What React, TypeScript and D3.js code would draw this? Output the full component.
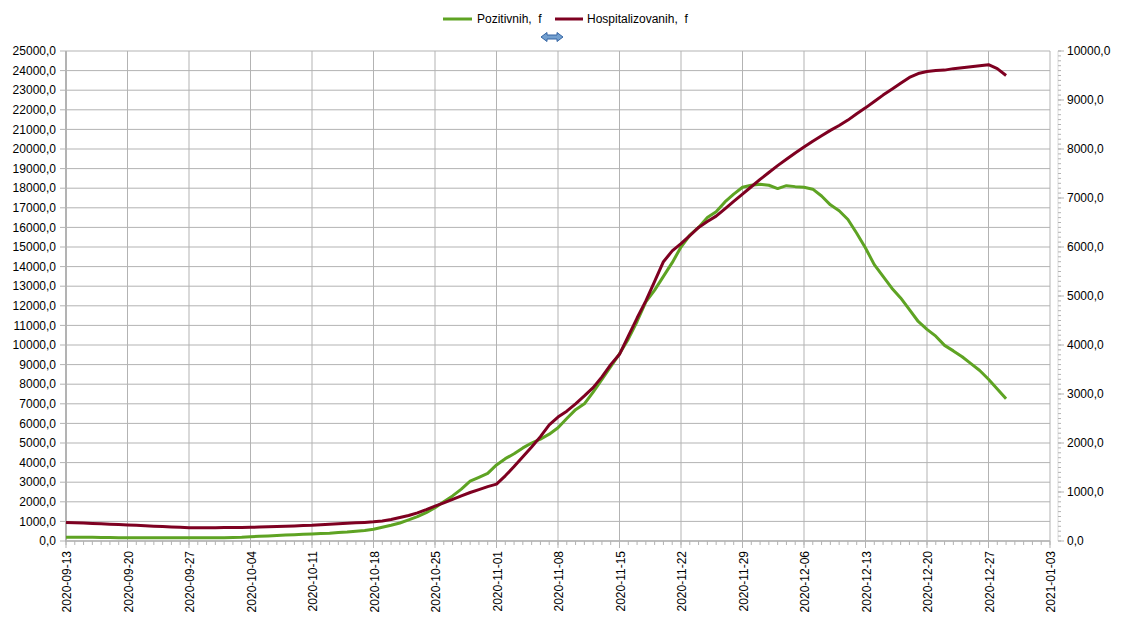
import React from "react";
import * as d3 from "d3";

const startDate = "2020-09-13";

const pozitivnih: number[] = [
  190, 190, 185, 185, 180, 175, 170, 165, 165, 160, 160, 160, 160, 160, 160,
  160, 165, 165, 170, 180, 195, 220,
  240, 260, 280, 300, 320, 340, 360,
  380, 400, 430, 460, 500, 540, 600,
  700, 800, 920, 1080,
  1240, 1450, 1700, 2000, 2300, 2650, 3050, 3250, 3450, 3880,
  4200, 4450, 4750, 5000, 5200, 5450, 5780, 6250, 6700, 7000, 7600, 8250, 8900,
  9550, 10300, 11200, 12200, 12800, 13500, 14200, 15000, 15600, 16000, 16500, 16800, 17300, 17700, 18050, 18150, 18200,
  18150, 17980, 18130, 18080, 18050, 17950, 17600, 17150, 16850, 16400,
  15700, 14950, 14100, 13500, 12900, 12400, 11800, 11200, 10800, 10450,
  9980, 9700, 9400, 9050, 8700, 8250, 7750, 7260,
];

const hospitalizovanih: number[] = [
  380, 372, 365, 358, 350, 342, 335, 328, 320, 312, 303, 295, 287, 280, 272,
  270, 270, 272, 274, 276, 278, 280,
  285, 290, 296, 302, 308, 314, 320,
  330, 340, 350, 360, 370, 380, 392,
  410, 440, 480, 520, 575, 640, 710, 780, 850, 920, 990, 1050, 1110, 1160,
  1330, 1520, 1720, 1920, 2130,
  2370, 2530, 2650, 2800, 2960, 3130, 3350, 3600, 3810, 4180, 4550, 4900, 5300, 5700, 5920,
  6070, 6230, 6400, 6520, 6630, 6780, 6930, 7080, 7230, 7380,
  7520, 7660, 7790, 7920, 8040, 8160, 8270, 8380, 8480, 8590,
  8720, 8840, 8970, 9100, 9220, 9340, 9460, 9540, 9580, 9600,
  9610, 9640, 9660, 9680, 9700, 9720, 9640, 9500,
];

const xTickLabels: string[] = [
  "2020-09-13", "2020-09-20", "2020-09-27", "2020-10-04", "2020-10-11",
  "2020-10-18", "2020-10-25", "2020-11-01", "2020-11-08", "2020-11-15",
  "2020-11-22", "2020-11-29", "2020-12-06", "2020-12-13", "2020-12-20",
  "2020-12-27", "2021-01-03",
];

const leftTicks: number[] = d3.range(0, 25001, 1000);
const rightTicks: number[] = d3.range(0, 10001, 1000);
const rightMinorTicks: number[] = d3.range(0, 10001, 100);

const seriesNames = ["Pozitivnih,  f", "Hospitalizovanih,  f"];
const colors = ["#5ea323", "#7e0021"];

const locale = d3.formatLocale({
  decimal: ",",
  thousands: "",
  grouping: [3],
  currency: ["", ""],
});
const fmt = locale.format(".1f");

export default function App() {
  const W = 1130;
  const H = 625;
  const left = 66;
  const right = 1050;
  const top = 51;
  const bottom = 541;

  const parse = d3.utcParse("%Y-%m-%d");
  const start = parse(startDate)!;
  const dates = pozitivnih.map((_, i) => d3.utcDay.offset(start, i));
  const tickDates = xTickLabels.map((s) => parse(s)!);

  const x = d3
    .scaleUtc()
    .domain([tickDates[0], tickDates[tickDates.length - 1]])
    .range([left, right]);
  const yL = d3.scaleLinear().domain([0, 25000]).range([bottom, top]);
  const yR = d3.scaleLinear().domain([0, 10000]).range([bottom, top]);

  const dailyTicks = d3.utcDay.range(tickDates[0], d3.utcDay.offset(tickDates[tickDates.length - 1], 1));

  const lineL = d3
    .line<number>()
    .x((_, i) => x(dates[i]))
    .y((d) => yL(d));
  const lineR = d3
    .line<number>()
    .x((_, i) => x(dates[i]))
    .y((d) => yR(d));

  const grid = "#b3b3b3";
  const font = "'Liberation Sans', Arial, sans-serif";
  const rAxisX = 1058;

  return (
    <svg
      width={W}
      height={H}
      style={{ position: "absolute", left: 0, top: 0, background: "#fff" }}
      fontFamily={font}
    >
      <rect x={0} y={0} width={W} height={H} fill="#fff" />
      {/* horizontal gridlines */}
      {leftTicks.map((t) => (
        <line key={"h" + t} x1={left} x2={right} y1={yL(t)} y2={yL(t)} stroke={grid} strokeWidth={1} />
      ))}
      {/* vertical gridlines */}
      {tickDates.map((d, i) => (
        <line key={"v" + i} x1={x(d)} x2={x(d)} y1={top} y2={bottom} stroke={grid} strokeWidth={1} />
      ))}
      {/* left axis */}
      <line x1={left} x2={left} y1={top} y2={bottom + 1} stroke={grid} strokeWidth={2} />
      {leftTicks.map((t) => (
        <g key={"lt" + t}>
          <line x1={left - 6} x2={left} y1={yL(t)} y2={yL(t)} stroke={grid} strokeWidth={1} />
          <text x={56} y={yL(t)} dy="0.35em" textAnchor="end" fontSize={12} fill="#000">
            {fmt(t)}
          </text>
        </g>
      ))}
      {/* bottom axis */}
      <line x1={left} x2={right} y1={bottom} y2={bottom} stroke={grid} strokeWidth={1.5} />
      {dailyTicks.map((d, i) => (
        <line key={"dt" + i} x1={x(d)} x2={x(d)} y1={bottom} y2={bottom + 4} stroke={grid} strokeWidth={1} />
      ))}
      {tickDates.map((d, i) => (
        <g key={"xt" + i}>
          <line x1={x(d)} x2={x(d)} y1={bottom} y2={bottom + 7} stroke={grid} strokeWidth={1} />
          <text
            transform={`translate(${x(d) + 1},${bottom + 10}) rotate(-90)`}
            dy="0.35em"
            textAnchor="end"
            fontSize={12}
            fill="#000"
          >
            {xTickLabels[i]}
          </text>
        </g>
      ))}
      {/* right axis */}
      <line x1={rAxisX} x2={rAxisX} y1={top} y2={bottom} stroke="#dddddd" strokeWidth={1} />
      {rightMinorTicks.map((t) => (
        <line key={"rm" + t} x1={rAxisX} x2={rAxisX + 3} y1={yR(t)} y2={yR(t)} stroke={grid} strokeWidth={1} />
      ))}
      {rightTicks.map((t) => (
        <g key={"rt" + t}>
          <line x1={rAxisX} x2={rAxisX + 6} y1={yR(t)} y2={yR(t)} stroke={grid} strokeWidth={1} />
          <text x={1067} y={yR(t)} dy="0.35em" textAnchor="start" fontSize={12} fill="#000">
            {fmt(t)}
          </text>
        </g>
      ))}
      {/* series */}
      <path d={lineL(pozitivnih) || ""} fill="none" stroke={colors[0]} strokeWidth={3} strokeLinejoin="round" />
      <path d={lineR(hospitalizovanih) || ""} fill="none" stroke={colors[1]} strokeWidth={3} strokeLinejoin="round" />
      {/* legend */}
      <g>
        <line x1={443} x2={472} y1={19} y2={19} stroke={colors[0]} strokeWidth={3} />
        <text x={477} y={19} dy="0.35em" fontSize={12} fill="#000" style={{ whiteSpace: "pre" }}>
          {seriesNames[0]}
        </text>
        <line x1={555} x2={583} y1={19} y2={19} stroke={colors[1]} strokeWidth={3} />
        <text x={587} y={19} dy="0.35em" fontSize={12} fill="#000" style={{ whiteSpace: "pre" }}>
          {seriesNames[1]}
        </text>
      </g>
      {/* selection handle arrow */}
      <path
        d="M541,37 L547,32.5 L547,35 L557,35 L557,32.5 L563,37 L557,41.5 L557,39 L547,39 L547,41.5 Z"
        fill="#729fcf"
        stroke="#3465a4"
        strokeWidth={1}
      />
    </svg>
  );
}
